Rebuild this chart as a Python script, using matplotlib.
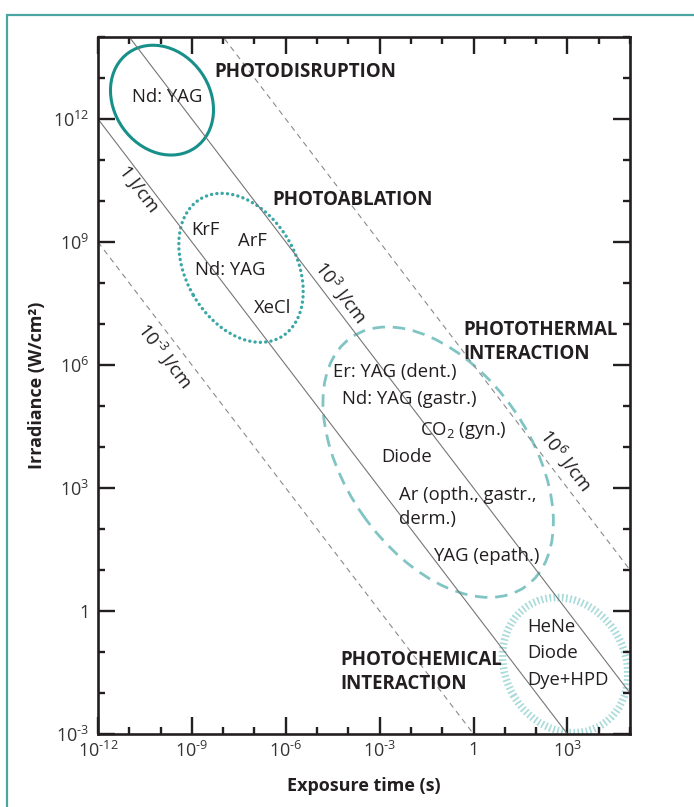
import numpy as np
import matplotlib
matplotlib.use("Agg")
import matplotlib.pyplot as plt
from matplotlib.patches import Ellipse, Rectangle
from matplotlib.transforms import IdentityTransform, ScaledTranslation
from matplotlib.ticker import FixedLocator, FuncFormatter, NullFormatter

plt.rcParams['font.family'] = ['Open Sans', 'DejaVu Sans']
plt.rcParams['mathtext.fontset'] = 'custom'
plt.rcParams['mathtext.rm'] = 'Open Sans'
plt.rcParams['mathtext.it'] = 'Open Sans:italic'
plt.rcParams['mathtext.bf'] = 'Open Sans:bold'

INK = '#231f20'
FS = 13.3     # plain labels
FSB = 13.5    # bold region names

# constant fluence lines (J/cm)
fluences = [1e-3, 1, 1e3, 1e6]
fluence_styles = ['dashed', 'solid', 'solid', 'dashed']
fluence_labels = [r'$\mathregular{10^{\text{-}3}}$ J/cm', '1 J/cm',
                  r'$\mathregular{10^{3}}$ J/cm', r'$\mathregular{10^{6}}$ J/cm']
fluence_label_t = [10**-9.86, 10**-10.69, 10**-4.24, 10**2.95]
fluence_label_I = [10**6.24, 10**10.29, 10**7.78, 10**3.68]

# interaction regions (ellipse centres in data, sizes in px)
region_t = [10**-9.955, 10**-7.43, 10**-1.13, 10**2.93]
region_I = [10**12.46, 10**8.37, 10**3.63, 10**-1.32]
region_w = [116, 160, 304, 140]
region_h = [96, 110, 184, 120]
region_ang = [-55, -60, -55, -60]

region_names = ['PHOTODISRUPTION', 'PHOTOABLATION',
                'PHOTOTHERMAL\nINTERACTION', 'PHOTOCHEMICAL\nINTERACTION']
name_t = [10**-5.385, 10**-3.88, 10**-0.34, 10**-4.27]
name_I = [10**13.15, 10**10.02, 10**6.56, 10**-1.49]
name_ha = ['center', 'center', 'left', 'left']

# lasers, centred labels
laser_c = ['Nd: YAG', 'KrF', 'ArF', 'Nd: YAG', 'XeCl']
laser_c_t = [10**-9.795, 10**-8.58, 10**-7.05, 10**-7.78, 10**-6.41]
laser_c_I = [10**12.54, 10**9.29, 10**9.02, 10**8.32, 10**7.39]

# lasers, left-aligned labels
laser_l = ['Er: YAG (dent.)', 'Nd: YAG (gastr.)', r'CO$_2$ (gyn.)', 'Diode',
           'Ar (opth., gastr.,', 'derm.)', 'YAG (epath.)',
           'HeNe', 'Diode', 'Dye+HPD']
laser_l_t = [10**-4.49, 10**-4.20, 10**-1.71, 10**-2.96,
             10**-2.38, 10**-2.38, 10**-1.29,
             10**1.71, 10**1.71, 10**1.71]
laser_l_I = [10**5.83, 10**5.17, 10**4.41, 10**3.76,
             10**2.83, 10**2.24, 10**1.34,
             10**-0.39, 10**-1.02, 10**-1.68]

fig = plt.figure(figsize=(6.94, 8.07), dpi=100)
ax = fig.add_axes([98/694, 1-734/807, 532/694, 697/807])
ax.set_xscale('log')
ax.set_yscale('log')
ax.set_xlim(1e-12, 1e5)
ax.set_ylim(1e-3, 1e14)

# outer frame
fig.patches.append(Rectangle((7/694, -0.05), 1.1, 1-15/807+0.05, transform=fig.transFigure,
                             fill=False, ec='#4aa6a1', lw=1.6))

t = np.logspace(-12, 5, 200)
for F, ls in zip(fluences, fluence_styles):
    if ls == 'dashed':
        ax.plot(t, F/t, color='#8a8a8a', lw=0.8, dashes=(5, 4))
    else:
        ax.plot(t, F/t, color='#767676', lw=0.8)

# slope of the lines on screen
p0 = ax.transData.transform((1e-6, 1e6))
p1 = ax.transData.transform((1e-3, 1e3))
ang = np.degrees(np.arctan2(p1[1]-p0[1], p1[0]-p0[0]))

for lab, lt, lI in zip(fluence_labels, fluence_label_t, fluence_label_I):
    ax.text(lt, lI, lab, rotation=ang, rotation_mode='anchor', ha='center', va='center',
            fontsize=FS, color=INK)

styles = [
    dict(ec='#17908a', lw=2.2, ls='solid'),
    dict(ec='#3aa7a6', lw=2.4, ls=(0, (0.05, 1.55)), capstyle='round'),
    dict(ec='#80c5c4', lw=2.0, ls=(0, (4.5, 2.8))),
    dict(ec='#a9dada', lw=5.5, ls=(0, (0.22, 0.32))),
]
for x, y, w, h, a, st in zip(region_t, region_I, region_w, region_h, region_ang, styles):
    tr = IdentityTransform() + ScaledTranslation(x, y, ax.transData)
    e = Ellipse((0, 0), w, h, angle=a, transform=tr, fill=False, **st)
    ax.add_patch(e)

for name, x, y, ha in zip(region_names, name_t, name_I, name_ha):
    ax.text(x, y, name, ha=ha, va='center', fontsize=FSB, fontweight='bold',
            color=INK, linespacing=1.3)

for lab, x, y in zip(laser_c, laser_c_t, laser_c_I):
    ax.text(x, y, lab, ha='center', va='center', fontsize=FS, color=INK)
for lab, x, y in zip(laser_l, laser_l_t, laser_l_I):
    ax.text(x, y, lab, ha='left', va='center', fontsize=FS, color=INK)

# ticks
ax.xaxis.set_major_locator(FixedLocator(10.0**np.arange(-12, 4, 3)))
ax.xaxis.set_minor_locator(FixedLocator(10.0**np.arange(-12, 6)))
ax.yaxis.set_major_locator(FixedLocator(10.0**np.arange(-3, 13, 3)))
ax.yaxis.set_minor_locator(FixedLocator(10.0**np.arange(-3, 15)))


def fmt(v, pos):
    n = int(round(np.log10(v)))
    if n == 0:
        return '1'
    if n < 0:
        return r'$\mathregular{10^{\text{-}%d}}$' % -n
    return r'$\mathregular{10^{%d}}$' % n


ax.xaxis.set_major_formatter(FuncFormatter(fmt))
ax.yaxis.set_major_formatter(FuncFormatter(fmt))
ax.xaxis.set_minor_formatter(NullFormatter())
ax.yaxis.set_minor_formatter(NullFormatter())
ax.tick_params(which='both', direction='in', top=True, right=True, color=INK,
               labelsize=13, labelcolor='#333333')
ax.tick_params(which='major', length=12, width=1.7)
ax.tick_params(which='minor', length=5, width=1.7)
ax.tick_params(axis='x', pad=5)
ax.tick_params(axis='y', pad=6)
for s in ax.spines.values():
    s.set_linewidth(1.9)
    s.set_color(INK)

ax.set_xlabel('Exposure time (s)', fontsize=13, fontweight='bold', color=INK, va='center')
ax.set_ylabel('Irradiance (W/cm²)', fontsize=13, fontweight='bold', color=INK, va='center')
ax.xaxis.set_label_coords(0.5, (734-786)/697)
ax.yaxis.set_label_coords((37-98)/532, 0.5)

fig.savefig('out.png', dpi=100)
